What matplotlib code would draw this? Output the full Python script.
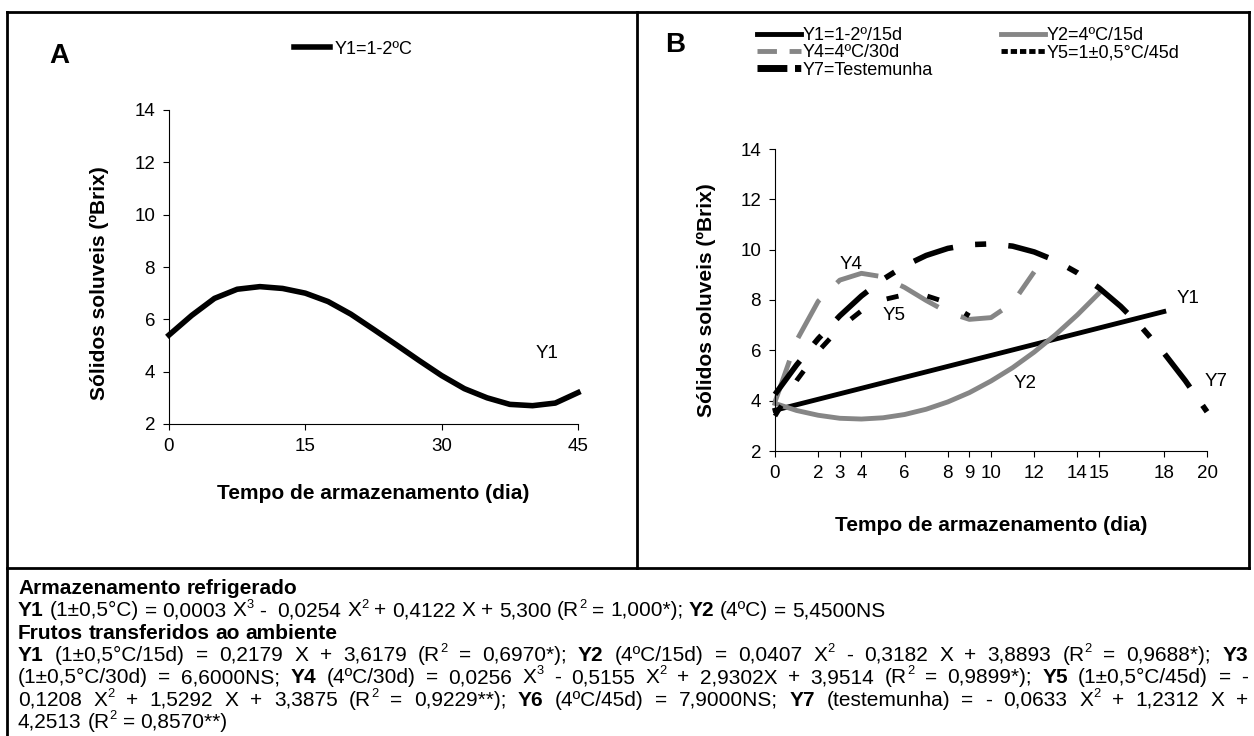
import matplotlib
matplotlib.use("Agg")
import matplotlib.pyplot as plt
from matplotlib.lines import Line2D

plt.rcParams['font.family'] = ['Liberation Sans', 'DejaVu Sans']

W, H, DPI = 1254, 736, 100

# ---------------- data ----------------
# Panel A : refrigerated storage, Y1 = 1-2 ºC
a_days = [0, 2.5, 5, 7.5, 10, 12.5, 15, 17.5, 20, 22.5, 25, 27.5, 30, 32.5, 35, 37.5, 40, 42.5, 45]
a_y1 = [5.4, 6.15, 6.8, 7.15, 7.25, 7.18, 7.0, 6.68, 6.2, 5.62, 5.03, 4.43, 3.85, 3.35, 3.0, 2.75, 2.7, 2.8, 3.2]
a_xticks = [0, 15, 30, 45]
a_label = "Y1=1-2ºC"

# Panel B : fruits transferred to ambient
b_y1_days = [0, 18]
b_y1 = [3.62, 7.54]
b_y2_days = list(range(0, 16))
b_y2 = [3.89, 3.61, 3.42, 3.30, 3.27, 3.32, 3.45, 3.66, 3.95, 4.32, 4.78, 5.31, 5.93, 6.63, 7.41, 8.27]
b_y4_days = list(range(0, 13))
b_y4 = [3.95, 6.39, 7.95, 8.79, 9.06, 8.92, 8.50, 7.98, 7.51, 7.23, 7.30, 7.88, 9.12]
b_y5_days = list(range(0, 10))
b_y5 = [3.39, 4.80, 5.96, 6.89, 7.57, 8.01, 8.21, 8.17, 7.89, 7.37]
b_y7_days = list(range(0, 21))
b_y7 = [4.25, 5.42, 6.46, 7.37, 8.16, 8.82, 9.36, 9.77, 10.05, 10.20, 10.23, 10.14, 9.91, 9.56,
        9.08, 8.48, 7.75, 6.89, 5.90, 4.79, 3.56]
b_xticks = [0, 2, 3, 4, 6, 8, 9, 10, 12, 14, 15, 18, 20]
b_labels = ["Y1=1-2º/15d", "Y2=4ºC/15d", "Y4=4ºC/30d", "Y5=1±0,5°C/45d", "Y7=Testemunha"]

yticks = [2, 4, 6, 8, 10, 12, 14]
ylabel = "Sólidos soluveis (ºBrix)"
xlabel = "Tempo de armazenamento (dia)"

GRAY = "#868686"
TICK_FS = 13.5
TITLE_FS = 15
LEG_FS = 13

# ---------------- figure ----------------
fig = plt.figure(figsize=(W / DPI, H / DPI), dpi=DPI)


def fx(px):
    return px / W


def fy(py):
    return 1 - py / H


def style_axes(ax):
    for s in ("top", "right"):
        ax.spines[s].set_visible(False)
    for s in ("left", "bottom"):
        ax.spines[s].set_linewidth(0.8)
        ax.spines[s].set_color("black")
    ax.tick_params(direction="out", length=4, width=0.8, labelsize=TICK_FS, pad=6, colors="black")
    ax.set_ylim(2, 14)
    ax.set_yticks(yticks)
    ax.set_facecolor("none")


# ---- Panel A ----
A_L, A_R, A_T, A_B = 169, 578, 110, 424
axA = fig.add_axes([fx(A_L), fy(A_B), (A_R - A_L) / W, (A_B - A_T) / H])
style_axes(axA)
axA.set_xlim(0, 45)
axA.set_xticks(a_xticks)
axA.plot(a_days, a_y1, color="black", lw=4, clip_on=False, solid_joinstyle="round")
axA.set_xlabel(xlabel, fontsize=TITLE_FS, fontweight="bold")
axA.xaxis.set_label_coords(0.5, (A_B - 484) / (A_B - A_T))
axA.set_ylabel(ylabel, fontsize=TITLE_FS, fontweight="bold")
axA.yaxis.set_label_coords((109 - A_L) / (A_R - A_L), 0.45)
axA.text(41.6, 4.7, "Y1", fontsize=TICK_FS, ha="center", va="center")
fig.legend([Line2D([], [], color="black", lw=4)], [a_label], loc="center left",
           bbox_to_anchor=(fx(294), fy(49)), bbox_transform=fig.transFigure,
           frameon=False, fontsize=LEG_FS, handlelength=2.0, handletextpad=0.25, borderpad=0,
           borderaxespad=0)
fig.text(fx(59), fy(56), "A", fontsize=20, fontweight="bold", ha="center", va="center")

# ---- Panel B ----
B_L, B_R, B_T, B_B = 775, 1207, 149, 451
axB = fig.add_axes([fx(B_L), fy(B_B), (B_R - B_L) / W, (B_B - B_T) / H])
style_axes(axB)
axB.set_xlim(0, 20)
axB.set_xticks(b_xticks)
axB.plot(b_y1_days, b_y1, color="black", lw=3.5, clip_on=False)
axB.plot(b_y2_days, b_y2, color=GRAY, lw=3.5, clip_on=False)
axB.plot(b_y4_days, b_y4, color=GRAY, lw=3.5, linestyle=(0, (9, 5)), clip_on=False)
axB.plot(b_y5_days, b_y5, color="black", lw=3.5, linestyle=(0, (2.5, 6)), clip_on=False)
axB.plot(b_y7_days, b_y7, color="black", lw=4, linestyle=(0, (7.5, 4, 2, 4)), clip_on=False)
axB.set_xlabel(xlabel, fontsize=TITLE_FS, fontweight="bold")
axB.xaxis.set_label_coords(0.5, (B_B - 516) / (B_B - B_T))
axB.set_ylabel(ylabel, fontsize=TITLE_FS, fontweight="bold")
axB.yaxis.set_label_coords((716 - B_L) / (B_R - B_L), 0.5)
for txt, xx, yy in (("Y1", 19.1, 8.05), ("Y2", 11.6, 4.68), ("Y4", 3.5, 9.4),
                    ("Y5", 5.5, 7.4), ("Y7", 20.4, 4.76)):
    axB.text(xx, yy, txt, fontsize=TICK_FS, ha="center", va="center")

proxies = [
    Line2D([], [], color="black", lw=3.5),
    Line2D([], [], color=GRAY, lw=3.5, linestyle=(0, (4, 2.6))),
    Line2D([], [], color="black", lw=5, linestyle=(0, (4.3, 1.1, 0.9, 10))),
    Line2D([], [], color=GRAY, lw=3.5),
    Line2D([], [], color="black", lw=3.5, linestyle=(0, (1.3, 0.6))),
]
order = [b_labels[0], b_labels[2], b_labels[4], b_labels[1], b_labels[3]]
fig.legend(proxies, order, ncol=2, loc="upper left",
           bbox_to_anchor=(fx(757), fy(27)), bbox_transform=fig.transFigure,
           frameon=False, fontsize=LEG_FS, handlelength=2.45, handletextpad=0.08,
           labelspacing=0.02, columnspacing=3.75, borderpad=0, borderaxespad=0)
fig.text(fx(675), fy(45), "B", fontsize=20, fontweight="bold", ha="center", va="center")

# ---- frame lines ----
DIV_Y = 568
frame_kw = dict(color="black", lw=2, transform=fig.transFigure, solid_capstyle="projecting")
fig.add_artist(Line2D([fx(7), fx(1249)], [fy(12), fy(12)], **frame_kw))
fig.add_artist(Line2D([fx(7), fx(7)], [fy(12), fy(736)], **frame_kw))
fig.add_artist(Line2D([fx(1249), fx(1249)], [fy(12), fy(DIV_Y)], **frame_kw))
fig.add_artist(Line2D([fx(637), fx(637)], [fy(12), fy(DIV_Y)], **frame_kw))
fig.add_artist(Line2D([fx(7), fx(1249)], [fy(DIV_Y), fy(DIV_Y)], **frame_kw))

# ---------------- equations block ----------------
FS = 15
N, B, S = "n", "b", "s"
eq_lines = [
    ([("Armazenamento refrigerado", B)], False),
    ([("Y1", B), (" (1±0,5°C) = 0,0003 X", N), ("3", S), (" -  0,0254 X", N), ("2", S),
      (" + 0,4122 X + 5,300 (R", N), ("2", S), (" = 1,000*); ", N), ("Y2", B),
      (" (4ºC) = 5,4500NS", N)], False),
    ([("Frutos transferidos ao ambiente", B)], False),
    ([("Y1", B), (" (1±0,5°C/15d) = 0,2179 X + 3,6179 (R", N), ("2", S), (" = 0,6970*); ", N),
      ("Y2", B), (" (4ºC/15d) = 0,0407 X", N), ("2", S), (" - 0,3182 X + 3,8893 (R", N), ("2", S),
      (" = 0,9688*); ", N), ("Y3", B)], True),
    ([("(1±0,5°C/30d) = 6,6000NS; ", N), ("Y4", B), (" (4ºC/30d) = 0,0256 X", N), ("3", S),
      (" - 0,5155 X", N), ("2", S), (" + 2,9302X + 3,9514 (R", N), ("2", S), (" = 0,9899*); ", N),
      ("Y5", B), (" (1±0,5°C/45d) = -", N)], True),
    ([("0,1208 X", N), ("2", S), (" + 1,5292 X + 3,3875 (R", N), ("2", S), (" = 0,9229**); ", N),
      ("Y6", B), (" (4ºC/45d) = 7,9000NS; ", N), ("Y7", B), (" (testemunha) = - 0,0633 X", N),
      ("2", S), (" + 1,2312 X +", N)], True),
    ([("4,2513 (R", N), ("2", S), (" = 0,8570**)", N)], False),
]

renderer = fig.canvas.get_renderer()


def piece_kw(kind):
    if kind == B:
        return dict(fontsize=FS, fontweight="bold")
    if kind == S:
        return dict(fontsize=FS * 0.62)
    return dict(fontsize=FS)


def measure(s, kind):
    t = fig.text(0, 0, s, **piece_kw(kind))
    w = t.get_window_extent(renderer).width
    t.remove()
    return w


space_w = measure("a a", N) - measure("aa", N)


def split_words(runs):
    words = [[]]
    for text, kind in runs:
        parts = text.split(" ")
        for i, p in enumerate(parts):
            if i > 0:
                words.append([])
            if p:
                words[-1].append((p, kind))
    return words


X0, X1 = 18, 1248
base0, step = 594, 22.3
for li, (runs, justify) in enumerate(eq_lines):
    words = split_words(runs)
    widths = [[measure(p, k) for p, k in w] for w in words]
    totals = [sum(ws) for ws in widths]
    gap = (X1 - X0 - sum(totals)) / (len(words) - 1) if justify else space_w
    x = X0
    base = base0 + li * step
    for w, ws in zip(words, widths):
        for (p, k), pw in zip(w, ws):
            yy = base - (FS * 0.42 * DPI / 72 if k == S else 0)
            fig.text(fx(x), fy(yy), p, va="baseline", ha="left", **piece_kw(k))
            x += pw
        x += gap

fig.savefig("out.png", dpi=DPI)
